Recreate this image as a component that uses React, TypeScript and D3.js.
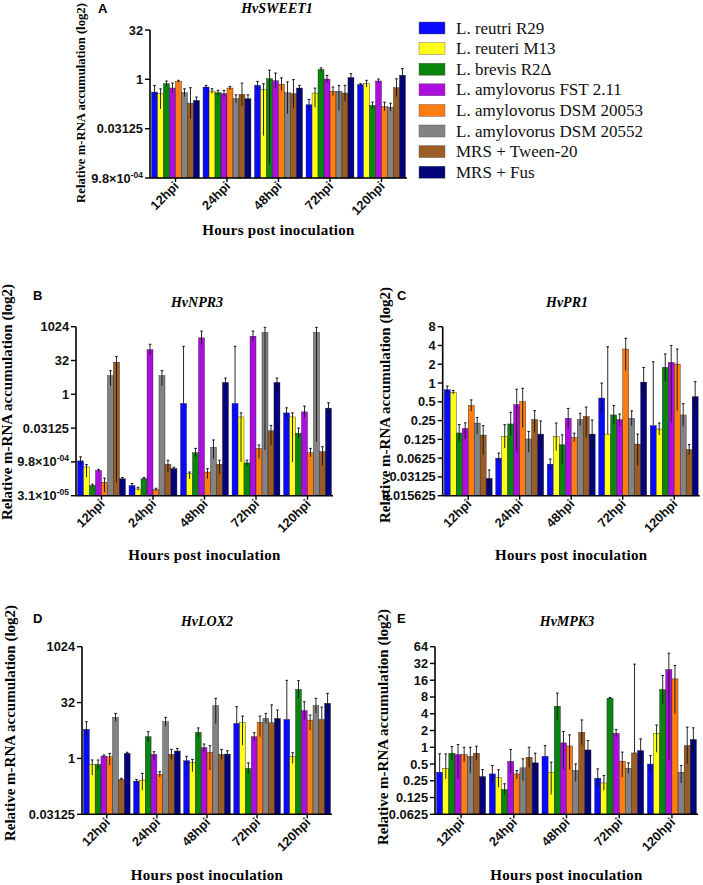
import { useEffect, useRef } from 'react'
import * as d3 from 'd3'

const timepoints = ['12hpi', '24hpi', '48hpi', '72hpi', '120hpi']
const strains = [
  'L. reutri R29',
  'L. reuteri M13',
  'L. brevis R2\u0394',
  'L. amylovorus FST 2.11',
  'L. amylovorus DSM 20053',
  'L. amylovorus DSM 20552',
  'MRS + Tween-20',
  'MRS + Fus',
]
const strainColors = ['#0a0aff', '#ffff1a', '#0a860f', '#ad0ee0', '#ff7d12', '#838383', '#9b5d24', '#03037c']

// all values are log2 of relative accumulation, rows = strains, cols = timepoints
const sweetMean = [
  [-1.29, -0.78, -0.61, -2.58, -0.54],
  [-1.46, -1.19, -1.05, -1.39, -0.44],
  [-0.44, -1.36, 0.07, 0.99, -2.65],
  [-0.88, -1.46, -0.14, 0.03, -0.17],
  [-0.2, -0.88, -0.5, -1.22, -2.76],
  [-1.36, -1.97, -1.36, -1.22, -2.82],
  [-2.41, -1.53, -1.46, -1.39, -0.85],
  [-2.14, -1.97, -0.88, 0.17, 0.41],
]
const sweetUp = [
  [0.68, 0.17, 0.4, 0.54, 0.1],
  [0.5, 0.24, 0.6, 0.5, 0.34],
  [0.27, 0.24, 0.85, 0.17, 0.34],
  [0.5, 0.34, 0.78, 0.37, 0.2],
  [0.1, 0.17, 0.65, 0.44, 0.44],
  [0.4, 0.4, 1.1, 0.6, 0.4],
  [1.56, 1.15, 1.43, 0.78, 0.9],
  [0.34, 0.4, 0.27, 0.4, 0.68],
]
const sweetDown = [
  [0.68, 0.17, 0.4, 0.54, 0.1],
  [1.53, 0.24, 4.66, 1.43, 0.34],
  [0.27, 0.24, 8.67, 0.17, 0.34],
  [0.5, 0.34, 0.78, 0.37, 0.2],
  [0.1, 0.17, 0.65, 0.44, 0.44],
  [0.4, 0.4, 2.14, 1.94, 0.4],
  [1.56, 1.15, 1.43, 0.78, 0.9],
  [0.34, 0.4, 0.27, 0.4, 0.68],
]

const npr3Mean = [
  [-9.85, -13.5, -1.35, -1.35, -2.75],
  [-10.75, -14, -11.75, -3.35, -3.35],
  [-13.5, -12.5, -8.65, -10.15, -5.75],
  [-11.25, 6.6, 8.35, 8.6, -2.6],
  [-13, -14.1, -11.5, -8, -8.65],
  [2.75, 2.75, -7.85, 9.15, 9.15],
  [4.75, -10.35, -10.35, -5.4, -8.5],
  [-12.5, -11, 1.75, 1.75, -2.05],
]
const npr3Up = [
  [0.6, 0.3, 8.45, 8.45, 0.75],
  [0.35, 0.25, 0.25, 0.6, 0.6],
  [0.2, 0.2, 0.65, 0.4, 0.75],
  [0.15, 0.8, 1, 0.75, 0.85],
  [0.6, 0.2, 0.5, 0.5, 0.65],
  [0.75, 0.75, 1.1, 0.75, 0.75],
  [0.85, 0.6, 0.6, 0.8, 0.75],
  [0.2, 0.2, 0.65, 0.65, 0.8],
]
const npr3Down = [
  [0.6, 0.3, 0, 0, 0.75],
  [1.5, 0.25, 0.75, 6.65, 6.65],
  [0.2, 0.2, 0.65, 0.4, 0.75],
  [0.15, 0.8, 1, 0.75, 0.85],
  [1.5, 0.2, 1, 1.5, 0.6],
  [1.5, 1.5, 1.65, 17.4, 16.15],
  [17.75, 1.15, 1.4, 2.1, 2],
  [0.2, 0.2, 0.65, 0.65, 0.8],
]

const pr1Mean = [
  [-0.36, -4.0, -4.32, -0.8, -2.27],
  [-0.5, -2.84, -2.86, -2.72, -2.45],
  [-2.66, -2.18, -3.29, -1.7, 0.83],
  [-2.42, -1.15, -1.88, -1.95, 1.1],
  [-1.2, -0.98, -2.9, 1.81, 1.01],
  [-2.13, -2.98, -1.95, -1.88, -1.7],
  [-2.77, -1.95, -1.78, -3.25, -3.55],
  [-5.08, -2.72, -2.72, 0.05, -0.73],
]
const pr1Up = [
  [0.2, 0.27, 0.27, 0.8, 3.4],
  [0.1, 0.62, 0.73, 4.65, 0.32],
  [0.45, 0.62, 0.53, 0.5, 0.72],
  [0.3, 0.82, 0.53, 0.3, 0.9],
  [0.3, 0.7, 0.23, 0.57, 0.8],
  [0.3, 0.4, 0.34, 0.4, 0.6],
  [0.5, 0.48, 0.5, 0.53, 0.27],
  [0.45, 0.7, 0.75, 0.78, 0.8],
]
const pr1Down = [
  [0.2, 0.27, 0.27, 0.8, 0],
  [0.1, 0.62, 0.73, 0, 0.32],
  [0.45, 0.62, 1.03, 0.5, 0.72],
  [0.56, 2.54, 0.53, 0.3, 3.2],
  [0.3, 1.38, 0.23, 1.15, 2.48],
  [0.59, 0.71, 0.34, 0.4, 0.6],
  [1.05, 0.68, 1.12, 1.15, 0.27],
  [0.45, 0.7, 0.75, 0.78, 0.8],
]

const lox2Mean = [
  [2.6, -2.03, -0.21, 3.13, 3.49],
  [-0.54, -1.94, -0.39, 3.19, 0.15],
  [-0.54, 1.94, 2.33, -0.9, 6.18],
  [0.21, 0.36, 0.96, 1.94, 4.27],
  [0.15, -1.43, 0.54, 3.22, 3.43],
  [3.67, 3.28, 4.72, 3.58, 4.72],
  [-1.88, 0.36, 0.36, 3.19, 3.49],
  [0.45, 0.66, 0.39, 3.58, 4.93],
]
const lox2Up = [
  [0.69, 0.15, 0.4, 1.5, 3.5],
  [0.4, 0.6, 0.3, 0.6, 0.36],
  [0.4, 0.45, 0.4, 0.5, 0.78],
  [0.1, 0.24, 0.33, 0.36, 0.8],
  [0.3, 0.24, 0.6, 0.57, 0.45],
  [0.36, 0.4, 0.66, 0.45, 0.66],
  [0.1, 0.45, 0.45, 1.6, 1.1],
  [0.1, 0.24, 0.3, 0.75, 0.9],
]
const lox2Down = [
  [0.69, 0.15, 0.4, 0, 0],
  [0.95, 0.9, 0.8, 2, 0.6],
  [0.4, 0.45, 0.4, 0.5, 0.78],
  [0.1, 0.5, 0.33, 0.36, 0.8],
  [0.75, 0.24, 1.58, 1.28, 0.9],
  [0.36, 0.4, 1.6, 0.45, 0.66],
  [0.1, 0.45, 0.45, 0, 0],
  [0.1, 0.24, 0.3, 0.75, 0.9],
]

const mpk3Mean = [
  [-1.49, -1.59, -0.54, -1.85, -1.0],
  [-1.25, -1.79, -1.49, -2.13, 0.83],
  [-0.36, -2.52, 2.45, 2.92, 3.44],
  [-0.44, -0.85, 0.26, 0.83, 4.63],
  [-0.44, -1.59, 0.08, -0.83, 4.08],
  [-0.54, -1.23, -1.39, -1.25, -1.49],
  [-0.36, -0.6, 0.89, -0.34, 0.1],
  [-1.75, -0.93, -0.16, -0.2, 0.46],
]
const mpk3Up = [
  [1.1, 0.5, 0.64, 0.56, 0.5],
  [0.85, 0.45, 0.6, 0.44, 0.5],
  [0.4, 0.34, 0.78, 0.05, 0.84],
  [0.6, 0.72, 0.68, 0.22, 0.98],
  [0.44, 0.2, 0.66, 0.54, 0.8],
  [0.54, 0.54, 0.4, 0.32, 0.4],
  [0.42, 0.6, 0.74, 5.3, 1.1],
  [0.42, 0.58, 0.56, 0.7, 0.7],
]
const mpk3Down = [
  [0, 0.5, 0, 0.56, 0.5],
  [0.64, 0.6, 1.33, 0.44, 1.13],
  [0.4, 0.34, 0.86, 0.05, 0.84],
  [1.45, 0.72, 1.55, 0.22, 5.43],
  [0.44, 0.3, 1.41, 0.96, 2.09],
  [1.01, 0.76, 0.66, 0.32, 0.64],
  [0.42, 0.6, 0.74, 0, 1.1],
  [0.42, 0.58, 0.56, 0.7, 0.7],
]

const sweetTicks = [5, 0, -5, -10]
const npr3Ticks = [10, 5, 0, -5, -10, -15]
const pr1Ticks = [3, 2, 1, 0, -1, -2, -3, -4, -5, -6]
const lox2Ticks = [10, 5, 0, -5]
const mpk3Ticks = [6, 5, 4, 3, 2, 1, 0, -1, -2, -3, -4]

interface Panel {
  letter: string
  gene: string
  mean: number[][]
  up: number[][]
  down: number[][]
  ticks: number[]
  left: number
  right: number
  top: number
  bottom: number
  letterX: number
  letterY: number
  titleX: number
  titleY: number
  xTitleY: number
  yTitleX: number
  yTitleY: number
  yTitleSize: number
}

const panels: Panel[] = [
  { letter: 'A', gene: 'HvSWEET1', mean: sweetMean, up: sweetUp, down: sweetDown, ticks: sweetTicks,
    left: 150, right: 407, top: 30, bottom: 178, letterX: 98, letterY: 13, titleX: 277, titleY: 13,
    xTitleY: 235, yTitleX: 85, yTitleY: 103, yTitleSize: 12.7 },
  { letter: 'B', gene: 'HvNPR3', mean: npr3Mean, up: npr3Up, down: npr3Down, ticks: npr3Ticks,
    left: 76, right: 333, top: 326.7, bottom: 495.7, letterX: 33, letterY: 300, titleX: 197, titleY: 307,
    xTitleY: 560, yTitleX: 12, yTitleY: 402, yTitleSize: 15 },
  { letter: 'C', gene: 'HvPR1', mean: pr1Mean, up: pr1Up, down: pr1Down, ticks: pr1Ticks,
    left: 442.7, right: 699.7, top: 326.7, bottom: 495.7, letterX: 397, letterY: 300, titleX: 567, titleY: 307,
    xTitleY: 560, yTitleX: 390, yTitleY: 405, yTitleSize: 15 },
  { letter: 'D', gene: 'HvLOX2', mean: lox2Mean, up: lox2Up, down: lox2Down, ticks: lox2Ticks,
    left: 82, right: 332, top: 646.7, bottom: 814.3, letterX: 33, letterY: 623, titleX: 207, titleY: 626,
    xTitleY: 880, yTitleX: 15, yTitleY: 723, yTitleSize: 15 },
  { letter: 'E', gene: 'HvMPK3', mean: mpk3Mean, up: mpk3Up, down: mpk3Down, ticks: mpk3Ticks,
    left: 435, right: 698, top: 646.7, bottom: 814.3, letterX: 397, letterY: 623, titleX: 567, titleY: 626,
    xTitleY: 880, yTitleX: 388, yTitleY: 727, yTitleSize: 15 },
]

const serif = '"Liberation Serif", "Times New Roman", serif'
const sans = '"Liberation Sans", Arial, sans-serif'

export default function App() {
  const svgRef = useRef<SVGSVGElement>(null)

  useEffect(() => {
    if (!svgRef.current) return
    const svg = d3.select(svgRef.current)
    svg.selectAll('*').remove()

    panels.forEach((p) => {
      const g = svg.append('g')
      const minE = p.ticks[p.ticks.length - 1]
      const maxE = p.ticks[0]
      const y = d3.scaleLog().base(2).domain([2 ** minE, 2 ** maxE]).range([p.bottom, p.top])
      const x0 = d3.scaleBand<string>().domain(timepoints).range([p.left, p.right])
        .paddingInner(0.07).paddingOuter(0.03)
      const x1 = d3.scaleBand<string>().domain(strains).range([0, x0.bandwidth()])

      // bars
      strains.forEach((s, si) => {
        timepoints.forEach((t, ti) => {
          const m = p.mean[si][ti]
          const bx = (x0(t) ?? 0) + (x1(s) ?? 0)
          const top = y(2 ** m)
          g.append('rect')
            .attr('x', bx)
            .attr('y', top)
            .attr('width', x1.bandwidth())
            .attr('height', p.bottom - top)
            .attr('fill', strainColors[si])
            .attr('stroke', '#1c1c1c')
            .attr('stroke-width', 0.4)
        })
      })

      // error bars
      strains.forEach((s, si) => {
        timepoints.forEach((t, ti) => {
          const m = p.mean[si][ti]
          const cx = (x0(t) ?? 0) + (x1(s) ?? 0) + x1.bandwidth() / 2
          const yHi = y(Math.min(2 ** (m + p.up[si][ti]), 2 ** maxE))
          const yLo = y(Math.max(2 ** (m - p.down[si][ti]), 2 ** minE))
          g.append('line')
            .attr('x1', cx).attr('x2', cx)
            .attr('y1', yHi).attr('y2', yLo)
            .attr('stroke', '#111')
            .attr('stroke-width', 0.9)
          g.append('line')
            .attr('x1', cx - 1.3).attr('x2', cx + 1.3)
            .attr('y1', yHi).attr('y2', yHi)
            .attr('stroke', '#111')
            .attr('stroke-width', 1)
        })
      })

      // axes
      g.append('line')
        .attr('x1', p.left).attr('x2', p.left)
        .attr('y1', p.top).attr('y2', p.bottom)
        .attr('stroke', '#000').attr('stroke-width', 1.6)
      g.append('line')
        .attr('x1', p.left).attr('x2', p.right)
        .attr('y1', p.bottom).attr('y2', p.bottom)
        .attr('stroke', '#000').attr('stroke-width', 1.6)

      p.ticks.forEach((e) => {
        const ty = y(2 ** e)
        g.append('line')
          .attr('x1', p.left - 5).attr('x2', p.left)
          .attr('y1', ty).attr('y2', ty)
          .attr('stroke', '#000').attr('stroke-width', 1.4)
        const txt = g.append('text')
          .attr('x', p.left - 7)
          .attr('y', ty + 4.5)
          .attr('text-anchor', 'end')
          .attr('font-family', sans)
          .attr('font-weight', 700)
          .attr('font-size', 12.8)
          .attr('fill', '#111')
        const v = 2 ** e
        if (e >= -6) {
          txt.text(String(v))
        } else {
          const pow = Math.floor(Math.log10(v))
          const mant = (v / 10 ** pow).toFixed(1)
          txt.append('tspan').text(`${mant}\u00d710`)
          txt.append('tspan')
            .attr('dy', -5)
            .attr('font-size', 8.5)
            .text(`-${String(-pow).padStart(2, '0')}`)
        }
      })

      timepoints.forEach((t) => {
        const cx = (x0(t) ?? 0) + x0.bandwidth() / 2
        g.append('line')
          .attr('x1', cx).attr('x2', cx)
          .attr('y1', p.bottom).attr('y2', p.bottom + 4)
          .attr('stroke', '#000').attr('stroke-width', 1.4)
        g.append('text')
          .attr('transform', `translate(${cx + 4},${p.bottom + 9}) rotate(-45)`)
          .attr('text-anchor', 'end')
          .attr('font-family', sans)
          .attr('font-weight', 700)
          .attr('font-size', 12.8)
          .attr('fill', '#111')
          .text(t)
      })

      // titles
      g.append('text')
        .attr('x', p.letterX).attr('y', p.letterY)
        .attr('font-family', sans).attr('font-weight', 700).attr('font-size', 13)
        .text(p.letter)
      g.append('text')
        .attr('x', p.titleX).attr('y', p.titleY)
        .attr('text-anchor', 'middle')
        .attr('font-family', serif).attr('font-weight', 700).attr('font-style', 'italic')
        .attr('font-size', 14)
        .text(p.gene)
      g.append('text')
        .attr('x', (p.left + p.right) / 2).attr('y', p.xTitleY)
        .attr('text-anchor', 'middle')
        .attr('font-family', serif).attr('font-weight', 700).attr('font-size', 15)
        .attr('letter-spacing', 0.3)
        .text('Hours post inoculation')
      g.append('text')
        .attr('transform', `translate(${p.yTitleX},${p.yTitleY}) rotate(-90)`)
        .attr('text-anchor', 'middle')
        .attr('font-family', serif).attr('font-weight', 700).attr('font-size', p.yTitleSize)
        .text('Relative m-RNA accumulation (log2)')
    })

    // legend
    const leg = svg.append('g')
    strains.forEach((s, i) => {
      const cy = 28 + i * 20.6
      leg.append('rect')
        .attr('x', 419).attr('y', cy - 6)
        .attr('width', 26).attr('height', 12)
        .attr('fill', strainColors[i])
        .attr('stroke', '#555').attr('stroke-width', 0.4)
      leg.append('text')
        .attr('x', 456).attr('y', cy + 5.5)
        .attr('font-family', serif).attr('font-size', 17)
        .attr('fill', '#111')
        .text(s)
    })
  }, [])

  return (
    <svg
      ref={svgRef}
      width={703}
      height={885}
      style={{ position: 'absolute', left: 0, top: 0, background: '#fff' }}
    />
  )
}
